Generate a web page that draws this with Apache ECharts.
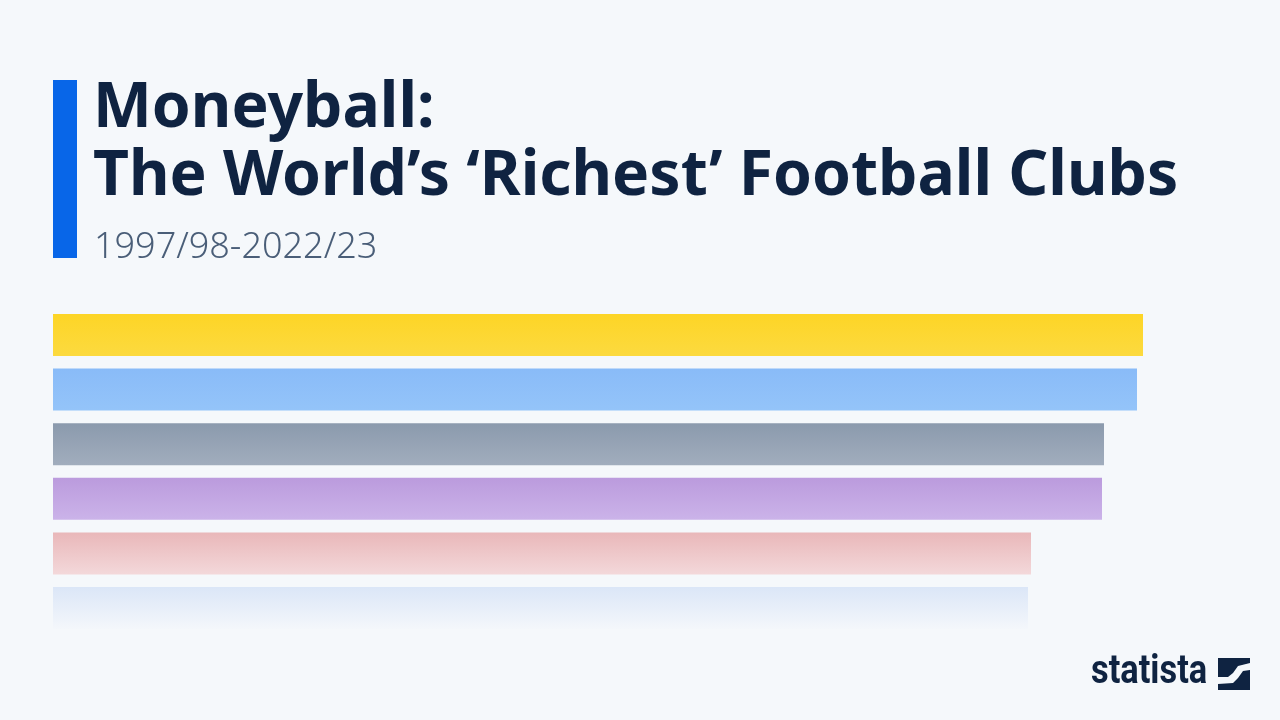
<!DOCTYPE html>
<html>
<head>
<meta charset="utf-8">
<script src="https://cdn.jsdelivr.net/npm/echarts@6/dist/echarts.min.js"></script>
<style>
	html, body {margin: 0; padding: 0; background: #f5f8fb;}
	#chart {width: 1280px; height: 720px;}
</style>
</head>
<body>
<div id="chart"></div>
<script>
// bar lengths (no axis shown, arbitrary units)
var clubs = ['Club 1', 'Club 2', 'Club 3', 'Club 4', 'Club 5', 'Club 6'];
var values = [1090, 1084, 1051, 1049, 978, 975];
var topColors = ['#fdd526', '#89bbf8', '#8b9aad', '#bb9bdd', '#e9b7b9', '#dbe6f7'];
var bottomColors = ['#fcda3f', '#94c4f9', '#a1adbd', '#cbb3e9', '#f3d8da', '#f4f7fb'];

var myChart = echarts.init(document.getElementById('chart'));

var data = [];
for (var i = 0; i < values.length; i++) {
	data.push({
		value: values[i],
		itemStyle: {
			color: {
				type: 'linear',
				x: 0, y: 0, x2: 0, y2: 1,
				colorStops: [
					{offset: 0, color: topColors[i]},
					{offset: 1, color: bottomColors[i]}
				]
			}
		}
	});
}

var option = {
	backgroundColor: '#f5f8fb',
	animation: false,
	title: [
		{
			text: 'Moneyball:\nThe World\u2019s \u2018Richest\u2019 Football Clubs',
			left: 88,
			top: 70,
			textStyle: {
				fontFamily: 'Noto Sans',
				fontSize: 62.4,
				fontWeight: 'bold',
				lineHeight: 68,
				color: '#0f2341'
			}
		},
		{
			text: '1997/98-2022/23',
			left: 89,
			top: 225,
			textStyle: {
				fontFamily: 'Noto Sans',
				fontSize: 36,
				fontWeight: 300,
				color: '#4a5e78'
			}
		}
	],
	grid: {
		left: 53,
		top: 307.7,
		width: 1100,
		height: 327.6
	},
	xAxis: {
		type: 'value',
		min: 0,
		max: 1100,
		show: false
	},
	yAxis: {
		type: 'category',
		inverse: true,
		data: clubs,
		show: false
	},
	series: [
		{
			type: 'bar',
			data: data,
			barWidth: 42
		}
	],
	graphic: [
		{
			type: 'rect',
			shape: {x: 53, y: 80, width: 24, height: 178},
			style: {fill: '#0866e8'}
		},
		{
			type: 'text',
			x: 1091,
			y: 653,
			scaleX: 0.86,
			style: {
				text: 'statista',
				fontFamily: 'Roboto',
				fontWeight: 'bold',
				fontSize: 40,
				fill: '#0f2341'
			}
		},
		{
			type: 'rect',
			shape: {x: 1218, y: 658, width: 32, height: 32},
			style: {fill: '#0f2341'}
		},
		{
			type: 'polygon',
			shape: {
				points: [[1218, 677], [1228, 677], [1233, 673], [1238, 666], [1250, 663], [1250, 670], [1243, 671], [1238, 678], [1233, 683], [1218, 684]]
			},
			style: {fill: '#f5f8fb'}
		}
	]
};

myChart.setOption(option);
</script>
</body>
</html>
